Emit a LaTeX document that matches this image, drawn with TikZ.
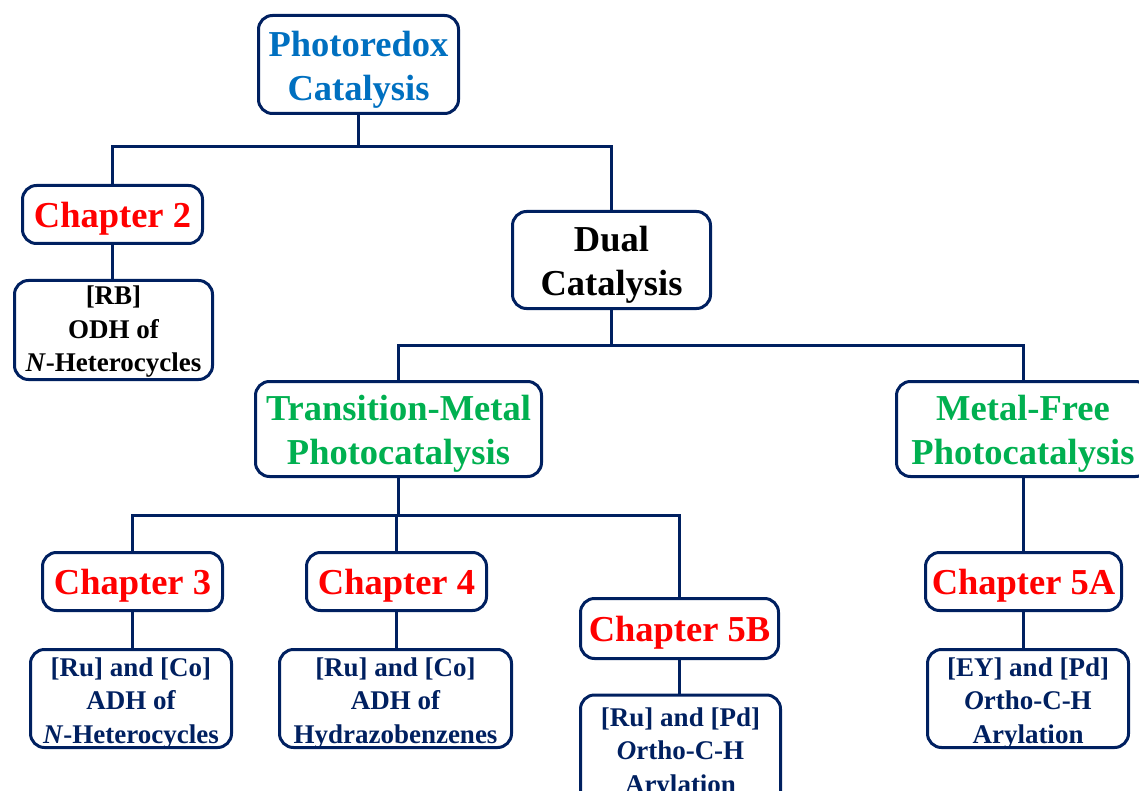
\documentclass[tikz,border=0pt]{standalone}
\usepackage{fontspec}
\setmainfont{Liberation Serif}
\definecolor{navy}{RGB}{0,32,96}
\definecolor{pblue}{RGB}{0,112,192}
\definecolor{pred}{RGB}{255,0,0}
\definecolor{pgreen}{RGB}{0,176,80}
\tikzset{
  box/.style={draw=navy, line width=3pt, rounded corners=14pt, fill=white, inner sep=0pt},
  big/.style={align=center, inner sep=0pt, yshift=-5pt, font=\bfseries\fontsize{36.5}{44}\selectfont},
  small/.style={align=center, inner sep=0pt, yshift=-5pt, font=\bfseries\fontsize{27}{33.5}\selectfont, text=navy},
  conn/.style={draw=navy, line width=3pt},
}
\begin{document}
\begin{tikzpicture}[x=1pt,y=-1pt]
\useasboundingbox (0,0) rectangle (1139,791);
\clip (0,0) rectangle (1139,791);
% boxes with their texts
\node[box, minimum width=200pt, minimum height=98pt,
  label={[big, text=pblue]center:Photoredox\\Catalysis}] (photo) at (358.5,64.5) {};
\node[box, minimum width=180pt, minimum height=58pt,
  label={[big, text=pred, yshift=1pt]center:Chapter 2}] (ch2) at (112.5,214.5) {};
\node[box, minimum width=198pt, minimum height=99pt,
  label={[small, text=black, yshift=3pt]center:[RB]\\ODH of\\\textit{N}-Heterocycles}] (rb) at (113.5,330) {};
\node[box, minimum width=198pt, minimum height=97pt,
  label={[big, text=black]center:Dual\\Catalysis}] (dual) at (611.5,260) {};
\node[box, minimum width=286pt, minimum height=95pt,
  label={[big, text=pgreen]center:Transition-Metal\\Photocatalysis}] (tm) at (398.5,429) {};
\node[box, minimum width=253pt, minimum height=95pt,
  label={[big, text=pgreen]center:Metal-Free\\Photocatalysis}] (mf) at (1023,429) {};
\node[box, minimum width=180pt, minimum height=58pt,
  label={[big, text=pred, yshift=1pt]center:Chapter 3}] (ch3) at (132.5,581.5) {};
\node[box, minimum width=180pt, minimum height=58pt,
  label={[big, text=pred, yshift=1pt]center:Chapter 4}] (ch4) at (396.5,581.5) {};
\node[box, minimum width=198pt, minimum height=60pt,
  label={[big, text=pred, yshift=1pt]center:Chapter 5B}] (ch5b) at (679.5,628.5) {};
\node[box, minimum width=196pt, minimum height=58pt,
  label={[big, text=pred, yshift=1pt]center:Chapter 5A}] (ch5a) at (1023.5,581.5) {};
\node[box, minimum width=201pt, minimum height=98pt,
  label={[small]center:[Ru] and [Co]\\ADH of\\\textit{N}-Heterocycles}] (s3) at (131,698.5) {};
\node[box, minimum width=232pt, minimum height=98pt,
  label={[small]center:[Ru] and [Co]\\ADH of\\Hydrazobenzenes}] (s4) at (395.5,698.5) {};
\node[box, minimum width=201pt, minimum height=98pt,
  label={[small]center:[EY] and [Pd]\\\textit{O}rtho-C-H\\Arylation}] (s5a) at (1028,698.5) {};
\node[box, minimum width=200pt, minimum height=110pt,
  label={[small, yshift=1.5pt]center:[Ru] and [Pd]\\\textit{O}rtho-C-H\\Arylation}] (s5b) at (680.5,750) {};
% junctions
\coordinate (j1) at (358.5,147);
\coordinate (j2) at (611.5,345);
\coordinate (j3) at (398.5,515);
% connectors
\draw[conn] (photo.south) -- (j1);
\draw[conn] (ch2.north) |- (j1) -| (dual.north);
\draw[conn] (ch2.south) -- (ch2.south |- rb.north);
\draw[conn] (dual.south) -- (j2);
\draw[conn] (tm.north) |- (j2) -| (mf.north);
\draw[conn] (tm.south) -- (j3);
\draw[conn] (ch3.north) |- (j3) -| (ch5b.north);
\draw[conn] (ch4.north) -- (ch4.north |- j3);
\draw[conn] (ch3.south) -- (ch3.south |- s3.north);
\draw[conn] (ch4.south) -- (ch4.south |- s4.north);
\draw[conn] (ch5b.south) -- (ch5b.south |- s5b.north);
\draw[conn] (mf.south) -- (mf.south |- ch5a.north);
\draw[conn] (ch5a.south) -- (ch5a.south |- s5a.north);
\end{tikzpicture}
\end{document}
